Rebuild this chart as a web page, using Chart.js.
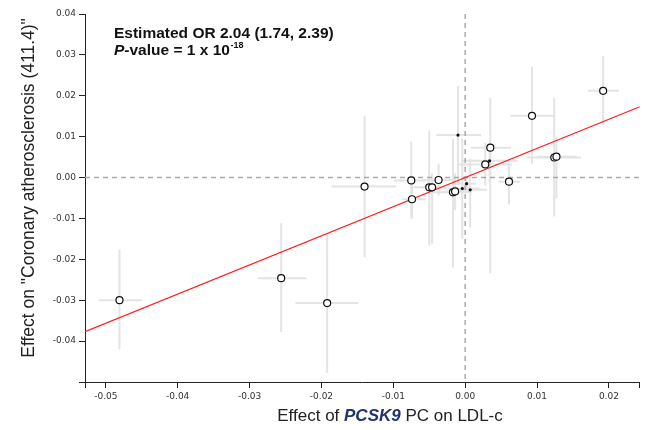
<!DOCTYPE html>
<html>
<head>
<meta charset="utf-8">
<script src="https://cdn.jsdelivr.net/npm/chart.js@4.4.0/dist/chart.umd.min.js"></script>
<style>
html, body { margin: 0; padding: 0; background: #fff; }
#wrap { position: relative; width: 645px; height: 430px; }
</style>
</head>
<body>
<div id="wrap"><canvas id="chart"></canvas></div>
<script>
// Instruments drawn as open circles
const circleX   = [-0.0481, -0.0256, -0.0192, -0.0140, -0.0075, -0.0074, -0.0050, -0.0046, -0.0037, -0.0017, -0.0014, 0.0028, 0.0035, 0.0061, 0.0093, 0.0124, 0.0127, 0.0192];
const circleY   = [-0.0300, -0.0246, -0.0307, -0.0022, -0.0007, -0.0053, -0.0024, -0.0024, -0.0006, -0.0036, -0.0034, 0.0032, 0.0073, -0.0010, 0.0151, 0.0049, 0.0051, 0.0212];
const circleXLo = [-0.0510, -0.0289, -0.0236, -0.0186, -0.0099, -0.0088, -0.0072, -0.0060, -0.0060, -0.0045, -0.0030, -0.0010, 0.0008, 0.0046, 0.0063, 0.0086, 0.0100, 0.0171];
const circleXHi = [-0.0450, -0.0221, -0.0149, -0.0096, -0.0050, -0.0055, -0.0028, -0.0032, -0.0014, 0.0010, 0.0005, 0.0065, 0.0064, 0.0076, 0.0124, 0.0161, 0.0155, 0.0214];
const circleYLo = [-0.0420, -0.0378, -0.0478, -0.0195, -0.0100, -0.0100, -0.0166, -0.0161, -0.0044, -0.0220, -0.0080, -0.0020, -0.0234, -0.0066, 0.0034, -0.0095, -0.0051, 0.0129];
const circleYHi = [-0.0176, -0.0112, -0.0137, 0.0151, 0.0088, -0.0005, 0.0115, 0.0010, 0.0034, 0.0095, 0.0010, 0.0085, 0.0195, 0.0037, 0.0271, 0.0195, 0.0100, 0.0298];

// Instruments drawn as small dots
const dotX   = [-0.0010, 0.0002, -0.0004, 0.0007, 0.0034];
const dotY   = [0.0104, -0.0015, -0.0027, -0.0030, 0.0041];
const dotXLo = [-0.0040, -0.0015, -0.0030, -0.0015, -0.0005];
const dotXHi = [0.0022, 0.0015, 0.0020, 0.0030, 0.0073];
const dotYLo = [-0.0016, -0.0035, -0.0150, -0.0122, -0.0010];
const dotYHi = [0.0224, 0.0005, 0.0095, 0.0046, 0.0090];

// Axes
const xMin = -0.0529, xMax = 0.0243;
const yMin = -0.05, yMax = 0.04;
const xTicks = [-0.05, -0.04, -0.03, -0.02, -0.01, 0.00, 0.01, 0.02];
const yTicks = [-0.04, -0.03, -0.02, -0.01, 0.00, 0.01, 0.02, 0.03, 0.04];

// IVW estimate
const oddsRatio = 2.04;
const slope = Math.log(oddsRatio);

const FONT = '"Liberation Sans", Arial, sans-serif';

function fmt(v) {
    if (Math.abs(v) < 1e-9) return '0.00';
    return v.toFixed(2);
}

function toPoints(xs, ys) {
    return xs.map((x, i) => ({ x: x, y: ys[i] }));
}

// Draw CI crosses and the dashed zero lines behind the points
const errorBarPlugin = {
    id: 'errorBars',
    beforeDatasetsDraw(chart) {
        const { ctx, scales: { x, y }, chartArea } = chart;
        ctx.save();
        ctx.strokeStyle = '#e4e4e4';
        ctx.lineWidth = 2;
        const drawSet = (xs, ys, xlo, xhi, ylo, yhi) => {
            xs.forEach((v, i) => {
                const px = x.getPixelForValue(v), py = y.getPixelForValue(ys[i]);
                ctx.beginPath();
                ctx.moveTo(x.getPixelForValue(xlo[i]), py);
                ctx.lineTo(x.getPixelForValue(xhi[i]), py);
                ctx.moveTo(px, y.getPixelForValue(ylo[i]));
                ctx.lineTo(px, y.getPixelForValue(yhi[i]));
                ctx.stroke();
            });
        };
        drawSet(circleX, circleY, circleXLo, circleXHi, circleYLo, circleYHi);
        drawSet(dotX, dotY, dotXLo, dotXHi, dotYLo, dotYHi);

        // zero lines
        ctx.strokeStyle = '#aaaaaa';
        ctx.lineWidth = 1.5;
        ctx.setLineDash([5, 4]);
        const x0 = x.getPixelForValue(0), y0 = y.getPixelForValue(0);
        ctx.beginPath();
        ctx.moveTo(x0, chartArea.top);
        ctx.lineTo(x0, chartArea.bottom);
        ctx.moveTo(chartArea.left, y0);
        ctx.lineTo(chartArea.right, y0);
        ctx.stroke();
        ctx.restore();
    }
};

const textPlugin = {
    id: 'texts',
    afterDraw(chart) {
        const { ctx } = chart;
        ctx.save();
        ctx.fillStyle = '#111';
        ctx.textBaseline = 'alphabetic';
        ctx.textAlign = 'left';

        // annotation
        ctx.font = 'bold 15.5px ' + FONT;
        ctx.fillText('Estimated OR 2.04 (1.74, 2.39)', 114, 38);
        let tx = 114;
        ctx.font = 'italic bold 15.5px ' + FONT;
        ctx.fillText('P', tx, 55);
        tx += ctx.measureText('P').width;
        ctx.font = 'bold 15.5px ' + FONT;
        ctx.fillText('-value = 1 x 10', tx, 55);
        tx += ctx.measureText('-value = 1 x 10').width;
        ctx.font = 'bold 9px ' + FONT;
        ctx.fillText('-18', tx + 0.5, 48);

        // x axis title
        const parts = [
            { t: 'Effect of ', f: '17px ' + FONT, c: '#222' },
            { t: 'PCSK9', f: 'italic bold 17px ' + FONT, c: '#22346e' },
            { t: ' PC on LDL-c', f: '17px ' + FONT, c: '#222' }
        ];
        let total = 0;
        parts.forEach(p => { ctx.font = p.f; p.w = ctx.measureText(p.t).width; total += p.w; });
        let cx = 390 - total / 2;
        parts.forEach(p => {
            ctx.font = p.f;
            ctx.fillStyle = p.c;
            ctx.fillText(p.t, cx, 421);
            cx += p.w;
        });

        // y axis title
        ctx.translate(29, 188);
        ctx.rotate(-Math.PI / 2);
        ctx.textAlign = 'center';
        ctx.textBaseline = 'middle';
        ctx.fillStyle = '#222';
        ctx.font = '17.5px ' + FONT;
        ctx.fillText('Effect on "Coronary atherosclerosis (411.4)"', 0, 0);
        ctx.restore();
    }
};

new Chart(document.getElementById('chart'), {
    type: 'scatter',
    data: {
        datasets: [
            {
                label: 'instruments',
                data: toPoints(circleX, circleY),
                pointRadius: 3.5,
                pointBorderWidth: 1.2,
                pointBorderColor: '#111',
                pointBackgroundColor: '#fff'
            },
            {
                label: 'small instruments',
                data: toPoints(dotX, dotY),
                pointRadius: 1.6,
                pointBorderWidth: 0,
                pointBackgroundColor: '#111'
            },
            {
                label: 'fit',
                type: 'line',
                data: [{ x: xMin, y: xMin * slope }, { x: xMax, y: xMax * slope }],
                borderColor: '#ff1a1a',
                borderWidth: 1.2,
                pointRadius: 0,
                fill: false
            }
        ]
    },
    options: {
        responsive: true,
        maintainAspectRatio: false,
        animation: false,
        layout: { padding: { top: 14, right: 4, left: 0, bottom: 0 } },
        plugins: {
            legend: { display: false },
            tooltip: { enabled: false }
        },
        scales: {
            x: {
                type: 'linear',
                min: xMin,
                max: xMax,
                afterBuildTicks: axis => { axis.ticks = [xMin, ...xTicks, xMax].map(v => ({ value: v })); },
                afterFit: axis => { axis.height = 48; },
                border: { display: true, color: '#222', width: 1 },
                grid: { drawOnChartArea: false, drawTicks: true, tickLength: 6, tickColor: '#222' },
                ticks: {
                    autoSkip: false,
                    maxRotation: 0,
                    padding: 3,
                    color: '#333',
                    font: { family: 'DejaVu Sans', size: 9 },
                    callback: v => xTicks.some(t => Math.abs(t - v) < 1e-9) ? fmt(v) : ''
                }
            },
            y: {
                type: 'linear',
                min: yMin,
                max: yMax,
                afterBuildTicks: axis => { axis.ticks = [yMin, ...yTicks].map(v => ({ value: v })); },
                afterFit: axis => { axis.width = 85; },
                border: { display: true, color: '#222', width: 1 },
                grid: { drawOnChartArea: false, drawTicks: true, tickLength: 6, tickColor: '#222' },
                ticks: {
                    autoSkip: false,
                    padding: 3,
                    color: '#333',
                    font: { family: 'DejaVu Sans', size: 9 },
                    callback: v => yTicks.some(t => Math.abs(t - v) < 1e-9) ? fmt(v) : ''
                }
            }
        }
    },
    plugins: [errorBarPlugin, textPlugin]
});
</script>
</body>
</html>
